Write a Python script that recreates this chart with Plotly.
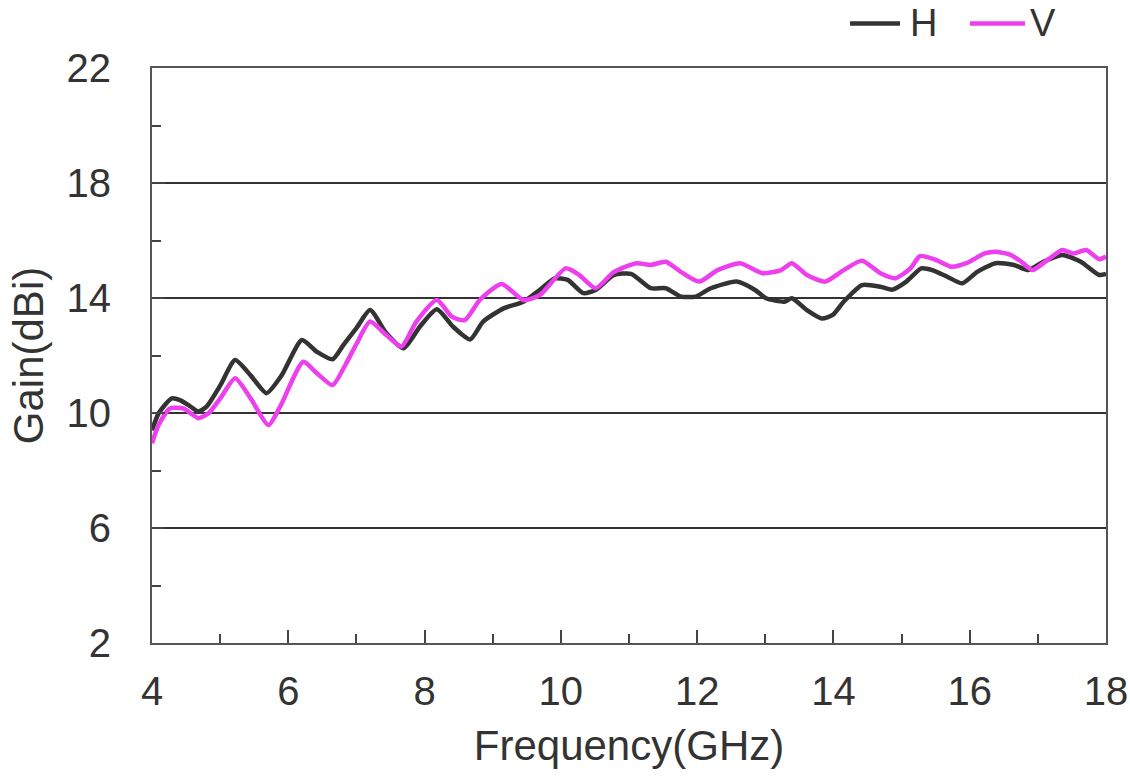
import plotly.graph_objects as go

# Frequency (GHz) and gain (dBi)
freq_h = [4.00, 4.10, 4.29, 4.41, 4.55, 4.68, 4.80, 5.00, 5.22, 5.45, 5.68, 5.90, 6.20, 6.42, 6.65,
          6.81, 7.00, 7.20, 7.44, 7.69, 7.93, 8.18, 8.42, 8.67, 8.86, 9.16, 9.45, 9.69, 9.91,
          10.10, 10.33, 10.51, 10.78, 11.03, 11.32, 11.54, 11.76, 11.98, 12.20, 12.58, 12.85,
          13.01, 13.28, 13.39, 13.61, 13.83, 13.99, 14.15, 14.42, 14.69, 14.86, 15.07, 15.29,
          15.45, 15.67, 15.89, 16.11, 16.38, 16.65, 16.86, 17.08, 17.36, 17.63, 17.90, 18.00]
gain_h = [9.40, 10.00, 10.51, 10.45, 10.25, 10.05, 10.22, 10.95, 11.84, 11.30, 10.69, 11.30, 12.54,
          12.13, 11.87, 12.37, 12.95, 13.58, 12.77, 12.25, 13.00, 13.61, 13.00, 12.56, 13.18,
          13.64, 13.87, 14.28, 14.68, 14.63, 14.17, 14.28, 14.80, 14.84, 14.34, 14.34, 14.05,
          14.05, 14.34, 14.57, 14.28, 13.99, 13.87, 13.99, 13.58, 13.29, 13.41, 13.87, 14.45,
          14.39, 14.29, 14.57, 15.03, 14.97, 14.74, 14.51, 14.91, 15.21, 15.15, 14.97, 15.26,
          15.50, 15.26, 14.80, 14.84]

freq_v = [4.00, 4.10, 4.26, 4.46, 4.68, 4.83, 5.00, 5.22, 5.45, 5.71, 5.88, 6.22, 6.42, 6.65, 6.85,
          7.00, 7.20, 7.44, 7.66, 7.88, 8.18, 8.40, 8.59, 8.81, 9.13, 9.45, 9.69, 10.07, 10.27,
          10.51, 10.78, 11.11, 11.32, 11.54, 11.76, 12.03, 12.30, 12.63, 12.96, 13.23, 13.39,
          13.61, 13.88, 14.15, 14.42, 14.69, 14.91, 15.13, 15.27, 15.51, 15.73, 15.95, 16.22,
          16.38, 16.60, 16.76, 16.92, 17.14, 17.36, 17.52, 17.71, 17.90, 18.00]
gain_v = [8.95, 9.60, 10.16, 10.16, 9.82, 9.99, 10.50, 11.21, 10.50, 9.58, 10.22, 11.78, 11.38,
          10.97, 11.73, 12.40, 13.18, 12.71, 12.31, 13.18, 13.93, 13.35, 13.23, 13.93, 14.49,
          13.93, 14.10, 15.03, 14.80, 14.34, 14.91, 15.21, 15.15, 15.26, 14.91, 14.57, 14.97,
          15.21, 14.86, 14.97, 15.21, 14.80, 14.57, 14.97, 15.30, 14.86, 14.69, 15.03, 15.46,
          15.32, 15.09, 15.21, 15.55, 15.61, 15.50, 15.26, 14.97, 15.32, 15.67, 15.55, 15.67,
          15.35, 15.44]

series_names = ["H", "V"]
series_colors = ["#333333", "#ee3fee"]

x_ticks = [4, 6, 8, 10, 12, 14, 16, 18]
y_ticks = [2, 6, 10, 14, 18, 22]

FONT = "Liberation Sans, Arial, sans-serif"
TXT = "#333333"
FS = 40

fig = go.Figure()
for name, fx, gy, col in zip(series_names, [freq_h, freq_v], [gain_h, gain_v], series_colors):
    fig.add_trace(go.Scatter(x=fx, y=gy, mode="lines", name=name, showlegend=False,
                             line=dict(color=col, width=4.5, shape="spline", smoothing=0.6)))

# legend drawn above the plot (line sample + label), positions in paper units
legend_x0 = [0.7317, 0.8574]
legend_x1 = [0.7841, 0.9151]
legend_tx = [0.7925, 0.9182]
legend_y = 1.0775
for name, col, a, b, t in zip(series_names, series_colors, legend_x0, legend_x1, legend_tx):
    fig.add_shape(type="line", xref="paper", yref="paper", x0=a, x1=b, y0=legend_y, y1=legend_y,
                  line=dict(color=col, width=4.5))
    fig.add_annotation(text=name, xref="paper", yref="paper", x=t, y=legend_y,
                       xanchor="left", yanchor="middle", showarrow=False,
                       font=dict(size=38, color=TXT, family=FONT))

fig.update_layout(
    width=1130, height=776,
    margin=dict(l=152, r=24, t=68, b=133, autoexpand=False),
    paper_bgcolor="white", plot_bgcolor="white",
    font=dict(family=FONT, size=FS, color=TXT),
    showlegend=False,
)

fig.update_xaxes(
    range=[4, 18], tickvals=x_ticks, ticktext=[str(v) for v in x_ticks],
    showgrid=False, zeroline=False, automargin=False,
    showline=True, linecolor="#555555", linewidth=2, mirror=True,
    ticks="inside", ticklen=13, tickwidth=2, tickcolor="#444444",
    minor=dict(dtick=1, tick0=4, ticks="inside", ticklen=9, tickwidth=1.5, tickcolor="#444444", showgrid=False),
    tickfont=dict(size=FS, color=TXT), ticklabelstandoff=12,
    title=dict(text="Frequency(GHz)", font=dict(size=42, color=TXT), standoff=19),
)
fig.update_yaxes(
    range=[2, 22], tickvals=y_ticks, ticktext=[str(v) for v in y_ticks],
    showgrid=True, gridcolor="#333333", gridwidth=1.5, zeroline=False, automargin=False,
    showline=True, linecolor="#555555", linewidth=2, mirror=True,
    ticks="inside", ticklen=13, tickwidth=2, tickcolor="#444444",
    minor=dict(dtick=2, tick0=2, ticks="inside", ticklen=9, tickwidth=1.5, tickcolor="#444444", showgrid=False),
    tickfont=dict(size=FS, color=TXT), ticklabelstandoff=31,
    title=dict(text="Gain(dBi)", font=dict(size=42, color=TXT), standoff=10),
)

fig.write_html("out.html", config={"displayModeBar": False},
               post_script="document.body.style.margin='0';document.body.style.overflow='hidden';")
